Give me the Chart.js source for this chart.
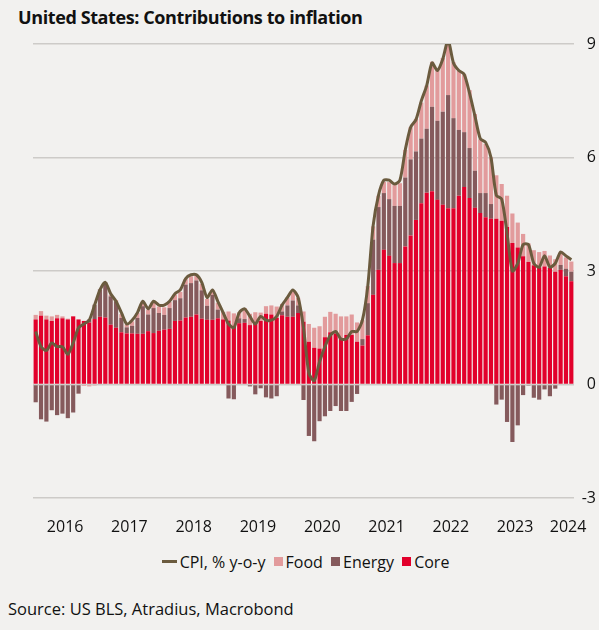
<!DOCTYPE html>
<html>
<head>
<meta charset="utf-8">
<script src="https://cdn.jsdelivr.net/npm/chart.js@4"></script>
<style>
  body { margin: 0; background: #f2f1ef; }
  #wrap { position: relative; width: 599px; height: 630px; background: #f2f1ef; font-family: "Open Sans", sans-serif; color: #111; }
  #title { position: absolute; left: 18px; top: 5px; font-size: 18px; font-weight: bold; letter-spacing: -0.4px; }
  #chart { position: absolute; left: 0; top: 0; }
  #legend { position: absolute; top: 549px; left: 0; width: 611px; text-align: center; font-size: 16px; }
  #legend span { display: inline-block; vertical-align: middle; }
  .sw { width: 9px; height: 9px; margin: 0 3px 0 4px; }
  .ln { width: 15px; height: 3px; margin: 0 3px 0 0; background: #6b5b3e; }
  #source { position: absolute; left: 8px; top: 597px; font-size: 16.5px; }
</style>
</head>
<body>
<div id="wrap">
  <div id="title">United States: Contributions to inflation</div>
  <canvas id="chart" width="599" height="545"></canvas>
  <div id="legend">
    <span class="ln"></span><span>CPI, % y-o-y</span>
    <span class="sw" style="background:#e29b9c"></span><span>Food</span>
    <span class="sw" style="background:#855a5c"></span><span>Energy</span>
    <span class="sw" style="background:#e2002b"></span><span>Core</span>
  </div>
  <div id="source">Source: US BLS, Atradius, Macrobond</div>
</div>
<script>
// monthly, Jan 2016 - May 2024
const firstYear = 2016;
const yearLabels = ['2016', '2017', '2018', '2019', '2020', '2021', '2022', '2023', '2024'];

const cpi = [
    1.4, 1.0, 0.9, 1.1, 1.0, 1.0, 0.8, 1.1, 1.5, 1.6, 1.7, 2.1,
    2.5, 2.7, 2.4, 2.2, 1.9, 1.6, 1.7, 1.9, 2.2, 2.0, 2.2, 2.1,
    2.1, 2.2, 2.4, 2.5, 2.8, 2.9, 2.9, 2.7, 2.3, 2.5, 2.2, 1.9,
    1.6, 1.5, 1.9, 2.0, 1.8, 1.6, 1.8, 1.7, 1.7, 1.8, 2.1, 2.3,
    2.5, 2.3, 1.5, 0.3, 0.1, 0.6, 1.0, 1.3, 1.4, 1.2, 1.2, 1.4,
    1.4, 1.7, 2.6, 4.2, 5.0, 5.4, 5.4, 5.3, 5.4, 6.2, 6.8, 7.0,
    7.5, 7.9, 8.5, 8.3, 8.6, 9.1, 8.5, 8.3, 8.2, 7.7, 7.1, 6.5,
    6.4, 6.0, 5.0, 4.9, 4.0, 3.0, 3.2, 3.7, 3.7, 3.2, 3.1, 3.4,
    3.1, 3.2, 3.5, 3.4, 3.3
];

const core = [
    1.72, 1.82, 1.72, 1.68, 1.75, 1.75, 1.72, 1.80, 1.72, 1.68, 1.64, 1.73,
    1.79, 1.77, 1.58, 1.50, 1.38, 1.35, 1.35, 1.34, 1.34, 1.41, 1.36, 1.42,
    1.45, 1.47, 1.68, 1.69, 1.77, 1.79, 1.85, 1.74, 1.71, 1.71, 1.75, 1.72,
    1.69, 1.55, 1.62, 1.63, 1.57, 1.63, 1.68, 1.87, 1.85, 1.76, 1.83, 1.79,
    1.79, 1.89, 1.66, 1.13, 0.97, 0.95, 1.25, 1.38, 1.35, 1.23, 1.31, 1.31,
    1.13, 1.03, 1.30, 2.37, 3.03, 3.56, 3.40, 3.21, 3.21, 3.65, 3.94, 4.35,
    4.79, 5.07, 5.11, 4.88, 4.75, 4.66, 4.66, 4.99, 5.22, 4.93, 4.67, 4.53,
    4.42, 4.38, 4.38, 4.33, 4.16, 3.74, 3.62, 3.39, 3.24, 3.15, 3.10, 3.12,
    3.08, 2.98, 3.03, 2.86, 2.73
];

const energy = [
    -0.47, -0.92, -0.98, -0.68, -0.81, -0.77, -0.89, -0.74, -0.24, 0.00, 0.08, 0.38,
    0.72, 0.93, 0.75, 0.70, 0.38, 0.16, 0.20, 0.42, 0.73, 0.44, 0.66, 0.47,
    0.39, 0.55, 0.55, 0.59, 0.87, 0.89, 0.90, 0.75, 0.37, 0.66, 0.23, -0.02,
    -0.37, -0.39, 0.13, 0.10, -0.05, -0.26, -0.10, -0.34, -0.37, -0.31, 0.10, 0.30,
    0.43, 0.20, -0.41, -1.36, -1.50, -0.97, -0.84, -0.70, -0.57, -0.70, -0.70, -0.46,
    -0.25, 0.17, 0.85, 1.46, 1.66, 1.50, 1.50, 1.51, 1.51, 1.82, 2.01, 1.81,
    1.71, 1.69, 2.23, 2.09, 2.46, 2.99, 2.38, 1.74, 1.45, 1.32, 0.98, 0.53,
    0.64, 0.39, -0.53, -0.40, -0.99, -1.52, -1.08, -0.28, -0.03, -0.35, -0.40, -0.13,
    -0.31, -0.11, 0.13, 0.20, 0.25
];

const food = [
    0.12, 0.12, 0.10, 0.12, 0.09, 0.05, 0.02, 0.01, -0.01, -0.04, -0.05, -0.03,
    0.01, 0.01, 0.04, 0.03, 0.10, 0.08, 0.12, 0.13, 0.12, 0.13, 0.14, 0.17,
    0.20, 0.16, 0.15, 0.17, 0.15, 0.18, 0.15, 0.17, 0.18, 0.13, 0.18, 0.20,
    0.24, 0.33, 0.16, 0.29, 0.30, 0.28, 0.22, 0.20, 0.24, 0.30, 0.20, 0.20,
    0.24, 0.20, 0.27, 0.47, 0.53, 0.59, 0.54, 0.54, 0.52, 0.57, 0.49, 0.54,
    0.51, 0.50, 0.45, 0.35, 0.30, 0.30, 0.45, 0.55, 0.60, 0.73, 0.85, 0.86,
    0.95, 1.14, 1.19, 1.33, 1.42, 1.43, 1.48, 1.56, 1.53, 1.53, 1.50, 1.42,
    1.30, 1.23, 1.15, 0.97, 0.83, 0.78, 0.66, 0.59, 0.49, 0.40, 0.40, 0.41,
    0.33, 0.33, 0.33, 0.30, 0.27
];

const months = cpi.map((v, i) => `${firstYear + Math.floor(i / 12)}-${String(i % 12 + 1).padStart(2, '0')}`);

// year labels sit in the middle of each year, last one pulled in to fit
const yearTicks = yearLabels.map((y, k) => Math.min(k * 12 + 5.5, months.length - 1.6));

const gridColor = '#cdcbc8';
const tickFont = { family: 'Open Sans', size: 16 };

const ctx = document.getElementById('chart').getContext('2d');
const chart = new Chart(ctx, {
    data: {
        labels: months,
        datasets: [
            {
                type: 'line', label: 'CPI, % y-o-y', data: cpi, stack: 'cpi',
                borderColor: '#6b5b3e', borderWidth: 3, pointRadius: 0, tension: 0.25,
                xAxisID: 'x', yAxisID: 'y'
            },
            { type: 'bar', label: 'Core', data: core, backgroundColor: '#e2002b', stack: 'c' },
            { type: 'bar', label: 'Energy', data: energy, backgroundColor: '#855a5c', stack: 'c' },
            { type: 'bar', label: 'Food', data: food, backgroundColor: '#e29b9c', stack: 'c' }
        ]
    },
    options: {
        responsive: false,
        animation: false,
        layout: { padding: { top: 44, left: 33, right: 3, bottom: 0 } },
        datasets: { bar: { barPercentage: 0.78, categoryPercentage: 1.0 } },
        plugins: { legend: { display: false }, tooltip: { enabled: false } },
        scales: {
            x: {
                type: 'category', stacked: true, display: false, offset: true
            },
            years: {
                type: 'linear', position: 'bottom', min: -0.5, max: months.length - 0.5,
                grid: { display: false }, border: { display: false },
                afterBuildTicks: (axis) => { axis.ticks = yearTicks.map(v => ({ value: v })); },
                afterFit: (axis) => { axis.height = 47; },
                ticks: {
                    autoSkip: false, maxRotation: 0, padding: 12, color: '#111', font: tickFont,
                    callback: (value, index) => yearLabels[index]
                }
            },
            y: {
                position: 'right', stacked: true, min: -3, max: 9,
                afterFit: (axis) => { axis.width = 22; },
                grid: { color: gridColor, lineWidth: 1.5, drawTicks: false },
                border: { display: false },
                ticks: { stepSize: 3, padding: 4, crossAlign: 'far', color: '#111', font: tickFont }
            }
        }
    }
});
</script>
</body>
</html>
